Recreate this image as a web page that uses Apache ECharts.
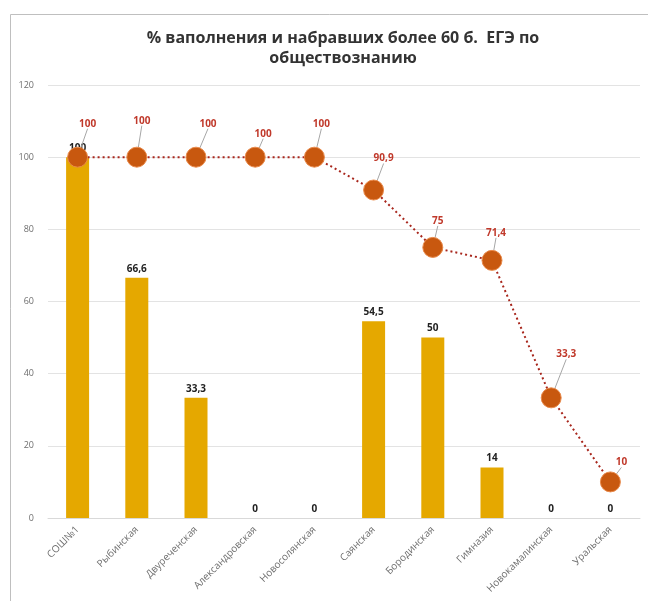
<!DOCTYPE html>
<html><head><meta charset="utf-8">
<script src="https://cdn.jsdelivr.net/npm/echarts@6/dist/echarts.min.js"></script>
<style>html,body{margin:0;padding:0;background:#fff}#c{width:648px;height:601px}</style>
</head><body><div id="c"></div>
<script>
var categories = ["СОШ№1","Рыбинская","Двуреченская","Александровская","Новосолянская","Саянская","Бородинская","Гимназия","Новокамалинская","Уральская"];
var barValues = [100, 66.6, 33.3, 0, 0, 54.5, 50, 14, 0, 0];
var lineValues = [100, 100, 100, 100, 100, 90.9, 75, 71.4, 33.3, 10];
var yTicks = [0, 20, 40, 60, 80, 100, 120];

function fmt(v){ return String(v).replace('.', ','); }
var lineDx = [10, 5, 12, 8, 7, 10, 5, 4, 15, 11];
var lineDy = [-13, -16, -13, -3, -13, -11, -6, -7, -23, 1];

var chart = echarts.init(document.getElementById('c'));
chart.setOption({
  animation: false,
  graphic: [{type:'rect', shape:{x:10.5, y:14.5, width:660, height:620}, style:{fill:'none', stroke:'#BFBFBF', lineWidth:1}}],
  title: {
    text: '% ваполнения и набравших более 60 б.  ЕГЭ по\nобществознанию',
    left: 338, top: 23, textAlign: 'center', padding: 5,
    textStyle: {fontFamily:'Open Sans', fontSize: 16, fontWeight:'bold', color:'#333', lineHeight: 20}
  },
  grid: {left: 48, right: 8, top: 85, bottom: 83},
  xAxis: {
    type: 'category', data: categories,
    axisLine: {lineStyle:{color:'#D9D9D9'}}, axisTick:{show:false},
    axisLabel: {rotate: 45, fontSize: 10, color:'#6E6E6E', margin: 10, interval: 0, fontFamily:'Open Sans'}
  },
  yAxis: {
    type: 'value', min: yTicks[0], max: yTicks[yTicks.length-1], interval: 20,
    axisLine:{show:false}, axisTick:{show:false},
    axisLabel: {fontSize: 9, color:'#6E6E6E', margin: 14, fontFamily:'Open Sans'},
    splitLine: {lineStyle:{color:'#E3E3E3'}}
  },
  series: [
    {
      type: 'bar', data: barValues, barWidth: 23,
      itemStyle: {color:'#E5A800'},
      label: {show:true, position:'top', distance: 4, fontSize: 10, fontWeight:'bold', color:'#222', fontFamily:'Open Sans',
        formatter: function(p){ return fmt(p.value); }}
    },
    {
      type: 'line', data: lineValues, symbol:'circle', symbolSize: 20,
      itemStyle: {color:'#C8580F', borderColor:'#E8894A', borderWidth: 1},
      lineStyle: {color:'#A8261C', width: 2, type: [2, 3]},
      label: {show:true, position:'top', fontSize: 10, fontWeight:'bold', color:'#C0392B', fontFamily:'Open Sans',
        formatter: function(p){ return fmt(p.value); }},
      labelLine: {show: true, lineStyle:{color:'#A6A6A6', width: 1}},
      labelLayout: function(p){ return {dx: lineDx[p.dataIndex], dy: lineDy[p.dataIndex]}; },
      z: 3
    }
  ]
});
</script></body></html>
